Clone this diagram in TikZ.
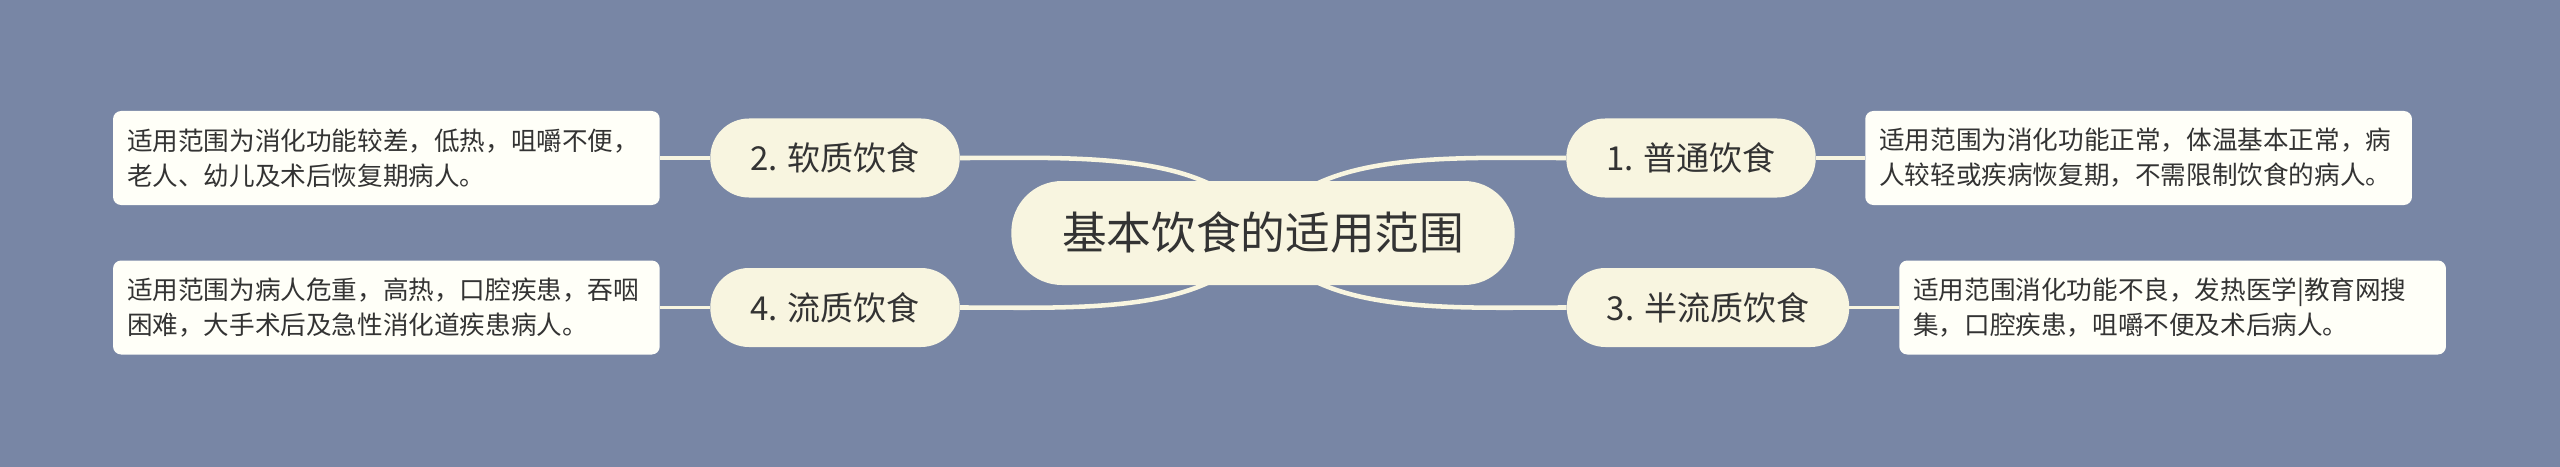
\documentclass[tikz,border=0pt]{standalone}
\usepackage{fontspec}
\setmainfont{Noto Sans CJK SC}
\usetikzlibrary{calc}
\definecolor{mapbg}{RGB}{120,134,165}
\definecolor{topicfill}{RGB}{248,245,224}
\definecolor{notefill}{RGB}{255,255,248}
\definecolor{inktext}{RGB}{51,51,51}
\pgfdeclarelayer{back}
\pgfdeclarelayer{links}
\pgfsetlayers{back,links,main}
\tikzset{
  rootnode/.style={fill=topicfill, text=inktext, rounded corners=38pt,
    inner xsep=38pt, inner ysep=0pt, minimum height=78pt,
    font=\fontsize{33.5pt}{40pt}\selectfont},
  topic/.style={fill=topicfill, text=inktext, rounded corners=29pt,
    inner xsep=30pt, inner ysep=0pt, minimum height=59.25pt,
    font=\fontsize{24.75pt}{30pt}\selectfont},
  notebox/.style={fill=notefill, text=inktext, rounded corners=6pt,
    text width=389pt, align=left, inner xsep=10.5pt, inner ysep=0pt,
    minimum height=70.5pt, font=\fontsize{19.2pt}{26.25pt}\selectfont},
  trunk/.style={draw=topicfill, line width=3.4pt},
  twig/.style={draw=topicfill, line width=2.4pt}
}
\begin{document}
\begin{tikzpicture}[x=0.75pt,y=-0.75pt]
  \begin{pgfonlayer}{back}
    \fill[mapbg] (0,0) rectangle (2560,467);
  \end{pgfonlayer}

  \node[rootnode] (root) at (1263,233) {基本饮食的适用范围};

  \node[topic] (b1) at (1691,158) {1. 普通饮食};
  \node[topic] (b2) at (835,158) {2. 软质饮食};
  \node[topic] (b3) at (1708,307.5) {3. 半流质饮食};
  \node[topic] (b4) at (835,307.5) {4. 流质饮食};

  \node[notebox,anchor=west] (n1) at (1865,158) {适用范围为消化功能正常，体温基本正常，病\\人较轻或疾病恢复期，不需限制饮食的病人。};
  \node[notebox,anchor=east] (n2) at (660,158) {适用范围为消化功能较差，低热，咀嚼不便，\\老人、幼儿及术后恢复期病人。};
  \node[notebox,anchor=west] (n3) at (1899,307.5) {适用范围消化功能不良，发热医学|教育网搜\\集，口腔疾患，咀嚼不便及术后病人。};
  \node[notebox,anchor=east] (n4) at (660,307.5) {适用范围为病人危重，高热，口腔疾患，吞咽\\困难，大手术后及急性消化道疾患病人。};

  \begin{pgfonlayer}{links}
    \draw[trunk] (root.center) .. controls ($(root.center)+(43,-83)$) and ($(b1.west)+(-120,0)$) .. (b1.west);
    \draw[trunk] (root.center) .. controls ($(root.center)+(-43,-83)$) and ($(b2.east)+(120,0)$) .. (b2.east);
    \draw[trunk] (root.center) .. controls ($(root.center)+(43,83)$) and ($(b3.west)+(-120,0)$) .. (b3.west);
    \draw[trunk] (root.center) .. controls ($(root.center)+(-43,83)$) and ($(b4.east)+(120,0)$) .. (b4.east);

    \draw[twig] (b1) -- (n1);
    \draw[twig] (b2) -- (n2);
    \draw[twig] (b3) -- (n3);
    \draw[twig] (b4) -- (n4);
  \end{pgfonlayer}
\end{tikzpicture}
\end{document}
